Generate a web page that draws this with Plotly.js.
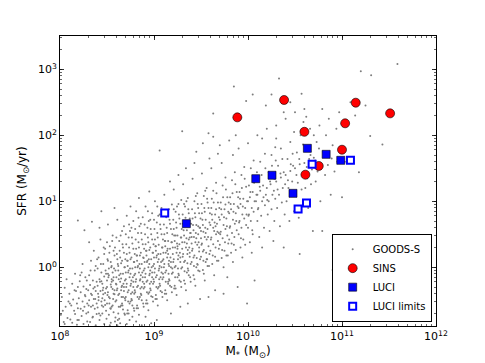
<!DOCTYPE html>
<html>
<head>
<meta charset="utf-8">
<script src="https://cdn.plot.ly/plotly-3.0.1.min.js"></script>
<style>html,body{margin:0;padding:0;background:#fff;}#chart{width:485px;height:363px;}</style>
</head>
<body>
<div id="chart"></div>
<script>
// SINS galaxies: stellar mass (Msun) and SFR (Msun/yr)
var sinsMass = [7.7e9, 2.42e10, 3.98e10, 1.40e11, 1.08e11, 3.25e11, 1.0e11, 5.66e10, 4.08e10];
var sinsSFR  = [187, 343, 113, 312, 152, 215, 60.5, 34.3, 25.3];
// LUCI detections
var luciMass = [2.21e9, 1.21e10, 1.8e10, 3.01e10, 4.28e10, 6.78e10, 9.7e10];
var luciSFR  = [4.58, 22.0, 24.8, 13.2, 63.5, 51.5, 41.8];
// LUCI limits
var limMass = [1.30e9, 3.41e10, 4.19e10, 4.81e10, 1.23e11];
var limSFR  = [6.65, 7.64, 9.43, 36.4, 41.8];
// GOODS-S background sample, [log10 M*, log10 SFR]
var goodsLog = [
[8.01,-0.72],[8.02,-0.45],[8.04,-0.83],[8.05,-0.31],[8.06,-0.60],[8.07,-0.18],[8.08,-0.77],[8.09,-0.52],[8.03,-0.66],[8.05,-0.86],
[8.10,-0.40],[8.11,-0.79],[8.12,-0.58],[8.13,-0.25],[8.13,-0.84],[8.14,-0.49],[8.15,-0.66],[8.16,-0.10],[8.16,-0.71],[8.17,-0.36],[8.18,-0.55],[8.18,-0.87],[8.19,-0.30],[8.19,-0.62],
[8.20,-0.47],[8.20,-0.80],[8.21,-0.21],[8.22,-0.63],[8.22,-0.38],[8.23,-0.74],[8.24,0.05],[8.24,-0.52],[8.25,-0.86],[8.25,-0.29],[8.26,-0.60],[8.26,0.56],[8.27,-0.44],[8.27,-0.15],[8.28,-0.70],[8.28,-0.33],[8.29,-0.55],[8.29,-0.82],[8.19,0.71],[8.23,-0.08],
[8.30,-0.35],[8.30,-0.68],[8.31,-0.12],[8.31,-0.50],[8.32,-0.83],[8.32,-0.27],[8.33,0.10],[8.33,-0.60],[8.34,-0.42],[8.34,0.69],[8.35,-0.75],[8.35,-0.20],[8.36,-0.48],[8.36,0.25],[8.37,-0.05],[8.37,-0.63],[8.38,-0.36],[8.38,-0.88],[8.39,-0.22],[8.39,-0.55],[8.31,0.38],[8.33,-0.40],[8.35,-0.58],[8.37,-0.30],[8.38,0.02],[8.39,-0.71],
[8.40,-0.28],[8.40,-0.61],[8.41,0.15],[8.41,-0.45],[8.42,-0.80],[8.42,-0.18],[8.43,-0.36],[8.43,0.42],[8.44,-0.52],[8.44,-0.08],[8.45,-0.70],[8.45,-0.25],[8.46,0.05],[8.46,-0.41],[8.47,-0.86],[8.47,-0.14],[8.48,-0.57],[8.48,0.28],[8.49,-0.32],[8.49,-0.66],[8.40,-0.02],[8.41,-0.50],[8.42,0.60],[8.43,-0.73],[8.44,-0.21],[8.45,-0.47],[8.46,-0.60],[8.47,0.20],[8.48,-0.39],[8.49,-0.10],[8.44,0.85],[8.46,-0.31],
[8.50,-0.20],[8.50,-0.55],[8.51,0.10],[8.51,-0.38],[8.52,-0.72],[8.52,-0.12],[8.53,0.32],[8.53,-0.47],[8.54,-0.26],[8.54,-0.84],[8.55,0.02],[8.55,-0.60],[8.56,-0.33],[8.56,0.48],[8.57,-0.15],[8.57,-0.68],[8.58,-0.41],[8.58,0.18],[8.59,-0.05],[8.59,-0.52],[8.50,-0.30],[8.51,0.65],[8.52,-0.45],[8.53,-0.88],[8.54,0.08],[8.55,-0.22],[8.56,-0.58],[8.57,0.25],[8.58,-0.35],[8.59,-0.76],[8.50,0.38],[8.52,-0.02],[8.54,-0.63],[8.55,-0.18],[8.57,-0.40],[8.58,0.90],[8.51,-0.10],[8.56,-0.08],
[8.60,-0.15],[8.60,-0.50],[8.61,0.12],[8.61,-0.32],[8.62,-0.70],[8.62,-0.05],[8.63,0.40],[8.63,-0.40],[8.64,-0.22],[8.64,-0.85],[8.65,0.06],[8.65,-0.58],[8.66,-0.28],[8.66,0.55],[8.67,-0.10],[8.67,-0.64],[8.68,-0.36],[8.68,0.22],[8.69,0.00],[8.69,-0.47],[8.60,-0.26],[8.61,0.72],[8.62,-0.42],[8.63,-0.78],[8.64,0.15],[8.65,-0.17],[8.66,-0.55],[8.67,0.30],[8.68,-0.30],[8.69,-0.72],[8.60,0.45],[8.62,0.02],[8.63,-0.12],[8.64,-0.60],[8.65,-0.35],[8.66,0.10],[8.67,-0.45],[8.68,0.62],[8.69,-0.20],[8.61,-0.88],
[8.70,-0.08],[8.70,-0.45],[8.71,0.20],[8.71,-0.25],[8.72,-0.65],[8.72,0.02],[8.73,0.45],[8.73,-0.35],[8.74,-0.15],[8.74,-0.80],[8.75,0.12],[8.75,-0.52],[8.76,-0.20],[8.76,0.60],[8.77,-0.02],[8.77,-0.58],[8.78,-0.30],[8.78,0.28],[8.79,0.08],[8.79,-0.40],[8.70,-0.18],[8.71,0.78],[8.72,-0.38],[8.73,-0.70],[8.74,0.22],[8.75,-0.10],[8.76,-0.48],[8.77,0.36],[8.78,-0.22],[8.79,-0.66],[8.70,0.50],[8.72,0.10],[8.73,-0.05],[8.74,-0.55],[8.75,-0.28],[8.76,0.15],[8.77,-0.38],[8.78,0.70],[8.79,-0.12],[8.71,-0.86],[8.75,0.92],[8.77,-0.75],
[8.80,0.00],[8.80,-0.38],[8.81,0.28],[8.81,-0.18],[8.82,-0.58],[8.82,0.10],[8.83,0.52],[8.83,-0.28],[8.84,-0.08],[8.84,-0.72],[8.85,0.18],[8.85,-0.45],[8.86,-0.12],[8.86,0.66],[8.87,0.05],[8.87,-0.50],[8.88,-0.22],[8.88,0.35],[8.89,0.14],[8.89,-0.32],[8.80,-0.10],[8.81,0.85],[8.82,-0.30],[8.83,-0.62],[8.84,0.30],[8.85,-0.02],[8.86,-0.40],[8.87,0.42],[8.88,-0.15],[8.89,-0.60],[8.80,0.58],[8.82,0.18],[8.83,0.02],[8.84,-0.48],[8.85,-0.20],[8.86,0.22],[8.87,-0.30],[8.88,0.76],[8.89,-0.05],[8.81,-0.82],[8.84,1.05],[8.87,-0.88],
[8.90,0.08],[8.90,-0.30],[8.91,0.35],[8.91,-0.10],[8.92,-0.50],[8.92,0.18],[8.93,0.60],[8.93,-0.20],[8.94,0.00],[8.94,-0.65],[8.95,0.26],[8.95,-0.38],[8.96,-0.05],[8.96,0.72],[8.97,0.12],[8.97,-0.44],[8.98,-0.15],[8.98,0.42],[8.99,0.22],[8.99,-0.25],[8.90,-0.02],[8.91,0.92],[8.92,-0.22],[8.93,-0.55],[8.94,0.38],[8.95,0.05],[8.96,-0.32],[8.97,0.50],[8.98,-0.08],[8.99,-0.52],[8.90,0.65],[8.92,0.25],[8.93,0.10],[8.94,-0.40],[8.95,-0.12],[8.96,0.30],[8.97,-0.22],[8.98,0.82],[8.99,0.02],[8.91,-0.75],[8.95,1.15],[8.97,-0.85],
[9.00,0.15],[9.00,-0.22],[9.01,0.42],[9.01,-0.02],[9.02,-0.42],[9.02,0.25],[9.03,0.68],[9.03,-0.12],[9.04,0.08],[9.04,-0.58],[9.05,0.34],[9.05,-0.30],[9.06,0.02],[9.06,0.80],[9.07,0.20],[9.07,-0.36],[9.08,-0.08],[9.08,0.50],[9.09,0.30],[9.09,-0.18],[9.00,0.05],[9.01,1.00],[9.02,-0.15],[9.03,-0.48],[9.04,0.45],[9.05,0.12],[9.06,-0.25],[9.07,0.58],[9.08,0.00],[9.09,-0.45],[9.00,0.72],[9.02,0.32],[9.03,0.18],[9.04,-0.32],[9.05,-0.05],[9.06,1.77],[9.07,-0.15],[9.08,0.90],[9.09,0.10],[9.03,-0.80],
[9.10,0.22],[9.10,-0.15],[9.11,0.50],[9.11,0.05],[9.12,-0.35],[9.12,0.32],[9.13,0.76],[9.13,-0.05],[9.14,0.15],[9.14,-0.50],[9.15,0.40],[9.15,-0.22],[9.16,0.10],[9.16,0.88],[9.17,0.28],[9.17,-0.28],[9.18,0.00],[9.18,0.58],[9.19,0.38],[9.19,-0.10],[9.10,0.12],[9.11,1.10],[9.12,-0.08],[9.13,-0.40],[9.14,0.52],[9.15,0.20],[9.16,-0.18],[9.17,0.66],[9.18,0.08],[9.19,-0.38],[9.10,0.80],[9.12,0.40],[9.14,0.25],[9.15,-0.25],[9.16,0.02],[9.17,1.30],[9.18,-0.70],[9.19,0.95],
[9.20,0.30],[9.20,-0.08],[9.21,0.58],[9.21,0.12],[9.22,-0.28],[9.22,0.40],[9.23,0.84],[9.23,0.02],[9.24,0.22],[9.24,-0.42],[9.25,0.48],[9.25,-0.15],[9.26,0.18],[9.26,0.96],[9.27,0.35],[9.27,-0.20],[9.28,0.08],[9.28,0.66],[9.29,0.45],[9.29,-0.02],[9.20,0.20],[9.21,1.18],[9.22,0.00],[9.23,-0.32],[9.24,0.60],[9.25,0.28],[9.26,-0.10],[9.27,0.74],[9.28,0.15],[9.29,-0.30],[9.21,0.88],[9.23,0.48],[9.25,0.32],[9.26,1.40],[9.28,-0.60],[9.29,1.02],
[9.30,0.38],[9.30,0.00],[9.31,0.66],[9.31,0.20],[9.32,-0.20],[9.32,0.48],[9.33,0.92],[9.33,0.10],[9.34,0.30],[9.34,-0.35],[9.35,0.56],[9.35,-0.08],[9.36,0.26],[9.36,1.05],[9.37,0.42],[9.37,-0.12],[9.38,0.16],[9.38,0.74],[9.39,0.52],[9.39,0.05],[9.30,0.28],[9.31,1.26],[9.32,0.08],[9.33,-0.25],[9.34,0.68],[9.35,0.36],[9.36,-0.02],[9.37,0.82],[9.38,0.22],[9.39,-0.22],[9.32,0.96],[9.34,1.50],[9.36,-0.55],[9.38,0.45],
[9.40,0.46],[9.40,0.08],[9.41,0.74],[9.41,0.28],[9.42,-0.12],[9.42,0.56],[9.43,1.00],[9.43,0.18],[9.44,0.38],[9.44,-0.28],[9.45,0.64],[9.45,0.00],[9.46,0.34],[9.46,1.12],[9.47,0.50],[9.47,-0.05],[9.48,0.24],[9.48,0.82],[9.49,0.60],[9.49,0.12],[9.40,0.36],[9.41,1.34],[9.42,0.15],[9.43,-0.18],[9.44,0.76],[9.45,0.44],[9.46,0.05],[9.47,0.90],[9.48,0.30],[9.49,-0.48],[9.43,1.58],[9.47,0.62],
[9.50,0.55],[9.50,0.16],[9.51,0.82],[9.51,0.36],[9.52,-0.04],[9.52,0.64],[9.53,1.08],[9.53,0.26],[9.54,0.46],[9.54,-0.20],[9.55,0.72],[9.55,0.08],[9.56,0.42],[9.56,1.20],[9.57,0.58],[9.57,0.02],[9.58,0.32],[9.58,0.90],[9.59,0.68],[9.59,0.20],[9.50,0.44],[9.51,1.42],[9.52,0.24],[9.53,-0.10],[9.54,0.84],[9.55,0.52],[9.56,0.12],[9.57,0.98],[9.58,-0.45],[9.59,1.65],
[9.60,0.64],[9.60,0.25],[9.61,0.90],[9.61,0.45],[9.62,0.05],[9.62,0.72],[9.63,1.16],[9.63,0.35],[9.64,0.55],[9.64,-0.12],[9.65,0.80],[9.65,0.16],[9.66,0.50],[9.66,1.28],[9.67,0.66],[9.67,0.10],[9.68,0.40],[9.68,0.98],[9.69,0.76],[9.69,0.28],[9.61,1.50],[9.63,0.60],[9.65,-0.35],[9.66,0.88],[9.68,1.72],[9.69,0.52],
[9.70,0.72],[9.70,0.34],[9.71,0.98],[9.71,0.54],[9.72,0.14],[9.72,0.80],[9.73,1.24],[9.73,0.44],[9.74,0.64],[9.74,0.00],[9.75,0.88],[9.75,0.25],[9.76,0.58],[9.76,1.36],[9.77,0.74],[9.77,0.18],[9.78,0.48],[9.78,1.06],[9.79,0.84],[9.79,0.36],[9.72,1.58],[9.74,-0.40],[9.76,0.95],[9.78,-0.15],
[9.80,0.82],[9.80,0.42],[9.81,1.06],[9.81,0.62],[9.82,0.22],[9.82,0.88],[9.83,1.32],[9.83,0.52],[9.84,0.72],[9.84,0.08],[9.85,0.96],[9.85,0.34],[9.86,0.66],[9.86,1.44],[9.87,0.82],[9.87,0.26],[9.88,0.56],[9.88,1.14],[9.89,0.92],[9.89,-0.30],[9.84,1.70],[9.87,2.00],
[9.90,0.90],[9.90,0.50],[9.91,1.14],[9.91,0.70],[9.92,0.30],[9.92,0.96],[9.93,1.40],[9.93,0.60],[9.94,0.80],[9.94,0.15],[9.95,1.04],[9.95,0.42],[9.96,0.74],[9.96,1.52],[9.97,0.90],[9.97,0.34],[9.98,0.64],[9.98,1.22],[9.99,1.00],[9.99,-0.55],
[10.00,1.00],[10.00,0.60],[10.01,1.24],[10.01,0.80],[10.02,0.38],[10.02,1.06],[10.03,1.50],[10.03,0.70],[10.04,0.90],[10.04,0.22],[10.05,1.14],[10.05,0.50],[10.06,0.84],[10.06,1.62],[10.07,1.00],[10.08,1.32],[10.09,1.10],[10.07,-0.20],
[10.10,1.10],[10.10,0.70],[10.11,1.34],[10.11,0.90],[10.12,0.46],[10.13,1.16],[10.13,1.60],[10.14,0.78],[10.15,1.00],[10.15,0.30],[10.16,1.24],[10.17,0.60],[10.18,0.94],[10.18,1.72],[10.19,1.10],[10.19,2.45],
[10.20,1.20],[10.21,0.80],[10.22,1.44],[10.22,1.00],[10.23,0.55],[10.24,1.26],[10.25,1.70],[10.25,0.88],[10.26,1.10],[10.27,0.40],[10.28,1.34],[10.28,0.70],[10.29,1.04],[10.29,1.82],
[10.30,1.30],[10.31,0.90],[10.32,1.54],[10.33,1.10],[10.34,0.62],[10.35,1.36],[10.35,1.80],[10.36,0.98],[10.37,1.20],[10.38,0.30],[10.38,1.44],[10.39,0.80],[10.33,2.86],
[10.40,1.40],[10.41,1.00],[10.42,1.64],[10.43,1.20],[10.44,0.70],[10.45,1.46],[10.45,1.90],[10.46,1.08],[10.47,1.30],[10.48,1.54],[10.49,0.85],[10.49,2.05],
[10.50,1.50],[10.51,1.10],[10.52,1.74],[10.53,1.28],[10.54,0.75],[10.55,1.56],[10.56,2.00],[10.57,1.18],[10.58,1.40],[10.59,2.20],[10.55,0.20],
[10.60,1.58],[10.61,1.20],[10.62,1.82],[10.63,1.35],[10.64,0.90],[10.65,1.64],[10.66,2.10],[10.67,1.26],[10.68,1.48],[10.69,0.55],
[10.70,1.66],[10.72,1.30],[10.73,1.90],[10.74,1.45],[10.76,2.15],[10.77,1.00],[10.78,1.56],[10.79,2.40],
[10.80,1.75],[10.82,1.40],[10.83,2.00],[10.85,1.55],[10.86,2.25],[10.88,1.10],[10.89,1.65],
[10.90,1.85],[10.92,1.45],[10.94,2.10],[10.95,1.60],[10.97,2.35],[10.90,-0.04],[10.79,0.55],
[11.00,1.06],[11.03,1.60],[11.05,2.20],[11.09,2.50],[11.18,1.44],[11.17,0.35],[11.10,0.15],
[11.20,2.97],[11.31,2.91],[11.59,3.08],[11.30,1.99],[11.43,1.86],[11.14,2.30],[11.25,2.45],
[9.85,2.74],[10.05,2.62],[10.25,2.62],[10.35,2.52],[10.57,2.63],[9.98,2.52],[9.63,2.33],
[9.30,2.06],[9.58,2.03],[9.63,1.98],[9.52,1.88],[9.45,1.75],[9.70,1.85],[9.80,1.92],[9.90,1.80],[10.00,1.88],[10.10,2.00],[10.20,2.10],[10.30,2.15],[10.40,2.25],[10.50,2.35],[10.60,2.40],[10.45,2.50],[10.62,2.28],[10.70,2.00],[10.30,1.95],[10.15,1.95],[10.38,2.35],
[8.105,-0.55],[8.155,-0.35],[8.185,-0.80],[8.215,-0.12],[8.245,-0.66],[8.265,-0.42],[8.285,-0.20],[8.305,-0.58],[8.325,-0.05],[8.345,-0.76],[8.355,-0.32],[8.375,-0.48],[8.395,0.12],
[8.405,-0.40],[8.415,-0.70],[8.425,-0.22],[8.435,0.05],[8.445,-0.58],[8.455,-0.35],[8.465,0.30],[8.475,-0.50],[8.485,-0.05],[8.495,-0.78],
[8.505,-0.42],[8.515,-0.15],[8.525,0.22],[8.535,-0.62],[8.545,-0.30],[8.555,0.40],[8.565,-0.48],[8.575,-0.02],[8.585,-0.82],[8.595,-0.25],[8.505,0.12],[8.525,-0.55],[8.545,0.00],[8.565,-0.20],[8.585,0.30],
[8.605,-0.35],[8.615,0.05],[8.625,-0.60],[8.635,0.25],[8.645,-0.10],[8.655,-0.45],[8.665,0.35],[8.675,-0.25],[8.685,-0.70],[8.695,0.12],[8.605,0.20],[8.625,-0.18],[8.645,0.48],[8.665,-0.58],[8.685,0.00],[8.615,-0.80],[8.655,-0.30],[8.695,-0.50],
[8.705,-0.30],[8.715,0.10],[8.725,-0.52],[8.735,0.30],[8.745,-0.02],[8.755,-0.40],[8.765,0.45],[8.775,-0.15],[8.785,-0.62],[8.795,0.20],[8.705,0.35],[8.725,-0.08],[8.745,0.55],[8.765,-0.50],[8.785,0.08],[8.715,-0.70],[8.755,-0.25],[8.795,-0.35],[8.735,0.65],
[8.805,-0.22],[8.815,0.18],[8.825,-0.45],[8.835,0.38],[8.845,0.05],[8.855,-0.32],[8.865,0.52],[8.875,-0.08],[8.885,-0.55],[8.895,0.28],[8.805,0.42],[8.825,0.00],[8.845,0.62],[8.865,-0.42],[8.885,0.15],[8.815,-0.62],[8.855,-0.18],[8.895,-0.25],[8.835,0.75],
[8.905,-0.15],[8.915,0.25],[8.925,-0.38],[8.935,0.45],[8.945,0.12],[8.955,-0.25],[8.965,0.58],[8.975,0.00],[8.985,-0.45],[8.995,0.35],[8.905,0.50],[8.925,0.08],[8.945,0.70],[8.965,-0.35],[8.985,0.22],[8.915,-0.55],[8.955,-0.10],[8.995,-0.18],[8.935,0.85],
[9.005,-0.08],[9.015,0.32],[9.025,-0.30],[9.035,0.52],[9.045,0.20],[9.055,-0.18],[9.065,0.65],[9.075,0.08],[9.085,-0.38],[9.095,0.42],[9.005,0.58],[9.025,0.15],[9.045,0.78],[9.065,-0.28],[9.085,0.30],[9.015,-0.48],[9.055,-0.02],[9.095,-0.10],[9.035,0.92],
[9.105,0.00],[9.115,0.40],[9.125,-0.22],[9.135,0.60],[9.145,0.28],[9.155,-0.10],[9.165,0.72],[9.175,0.15],[9.185,-0.30],[9.195,0.50],[9.105,0.65],[9.125,0.22],[9.145,0.85],[9.165,-0.20],[9.185,0.38],[9.115,-0.40],[9.155,0.05],[9.195,-0.02],
[9.205,0.08],[9.215,0.48],[9.225,-0.15],[9.235,0.68],[9.245,0.36],[9.255,-0.02],[9.265,0.80],[9.275,0.22],[9.285,-0.22],[9.295,0.58],[9.205,0.72],[9.225,0.30],[9.245,0.92],[9.265,-0.12],[9.285,0.45],[9.215,-0.32],[9.255,0.12],
[9.305,0.16],[9.315,0.56],[9.325,-0.06],[9.335,0.75],[9.345,0.44],[9.355,0.06],[9.365,0.88],[9.375,0.30],[9.385,-0.15],[9.395,0.66],[9.305,0.80],[9.325,0.38],[9.345,1.00],[9.365,-0.05],[9.385,0.52],[9.355,0.20],
[9.405,0.25],[9.415,0.64],[9.425,0.02],[9.435,0.82],[9.445,0.52],[9.455,0.14],[9.465,0.96],[9.475,0.38],[9.485,-0.06],[9.495,0.74],[9.405,0.88],[9.425,0.46],[9.445,1.08],[9.465,0.04],[9.485,0.60],
[9.505,0.34],[9.515,0.72],[9.525,0.10],[9.535,0.90],[9.545,0.60],[9.555,0.22],[9.565,1.04],[9.575,0.46],[9.585,0.02],[9.595,0.82],[9.505,0.96],[9.525,0.54],[9.545,1.16],[9.565,0.12],
[9.605,0.42],[9.615,0.80],[9.625,0.18],[9.635,0.98],[9.645,0.68],[9.655,0.30],[9.665,1.12],[9.675,0.54],[9.685,0.10],[9.695,0.90],[9.615,1.04],[9.655,0.62],
[9.705,0.50],[9.715,0.88],[9.725,0.26],[9.735,1.06],[9.745,0.76],[9.755,0.38],[9.765,1.18],[9.775,0.62],[9.785,0.18],[9.795,0.98],
[9.805,0.60],[9.815,0.96],[9.825,0.36],[9.835,1.12],[9.845,0.84],[9.855,0.46],[9.865,1.26],[9.875,0.70],[9.895,1.06],
[9.905,0.68],[9.915,1.04],[9.925,0.44],[9.935,1.20],[9.945,0.92],[9.965,1.34],[9.985,0.80],
[10.005,0.78],[10.025,1.14],[10.045,0.56],[10.065,1.28],[10.085,1.00],[10.095,1.44],
[10.105,0.88],[10.125,1.22],[10.145,1.40],[10.165,1.06],[10.185,1.50],
[10.205,1.02],[10.235,1.30],[10.255,1.54],[10.275,1.16],[10.295,1.62],
[10.315,1.18],[10.345,1.42],[10.365,1.64],[10.395,1.26],
[10.425,1.32],[10.455,1.56],[10.475,1.72],[10.515,1.40],[10.545,1.64],[10.585,1.86],[10.625,1.52],[10.665,1.70],[10.715,1.62],[10.755,1.80]
];

var goodsMass = goodsLog.map(function(p){ return Math.pow(10, p[0]); });
var goodsSFR  = goodsLog.map(function(p){ return Math.pow(10, p[1]); });

var xTickVals = [1e8, 1e9, 1e10, 1e11, 1e12];
var xTickText = ['10<sup>8</sup>', '10<sup>9</sup>', '10<sup>10</sup>', '10<sup>11</sup>', '10<sup>12</sup>'];
var yTickVals = [1, 10, 100, 1000];
var yTickText = ['10<sup>0</sup>', '10<sup>1</sup>', '10<sup>2</sup>', '10<sup>3</sup>'];

var FONT = 'DejaVu Sans, sans-serif';

var traces = [
  {x: goodsMass, y: goodsSFR, mode: 'markers', type: 'scatter', name: 'GOODS-S',
   marker: {size: 2, color: 'rgb(125,125,125)', line: {width: 0}}},
  {x: sinsMass, y: sinsSFR, mode: 'markers', type: 'scatter', name: 'SINS',
   marker: {size: 9, color: '#ff0000', symbol: 'circle', line: {width: 0.6, color: '#000'}}},
  {x: luciMass, y: luciSFR, mode: 'markers', type: 'scatter', name: 'LUCI',
   marker: {size: 8, color: '#0000ff', symbol: 'square', line: {width: 0.6, color: '#000'}}},
  {x: limMass, y: limSFR, mode: 'markers', type: 'scatter', name: 'LUCI limits',
   marker: {size: 7, color: '#ffffff', symbol: 'square', line: {width: 2, color: '#0000ff'}}}
];

var axCommon = {
  type: 'log', showgrid: false, zeroline: false, showline: true, linecolor: '#000', linewidth: 1,
  mirror: 'allticks', ticks: 'inside', ticklen: 4, tickcolor: '#000', tickwidth: 0.8,
  tickfont: {family: FONT, size: 11, color: '#000'},
  minor: {ticks: 'inside', ticklen: 2, tickcolor: '#000', tickwidth: 0.6, dtick: 'D1', showgrid: false}
};

var layout = {
  width: 485, height: 363,
  margin: {l: 60, r: 49, t: 36, b: 37},
  paper_bgcolor: '#fff', plot_bgcolor: '#fff',
  showlegend: true,
  xaxis: Object.assign({}, axCommon, {
    range: [8, 12], tickvals: xTickVals, ticktext: xTickText,
    title: {text: 'M<sub>*</sub> (M<sub>⊙</sub>)', font: {family: FONT, size: 12, color: '#000'}, standoff: 4}
  }),
  yaxis: Object.assign({}, axCommon, {
    range: [-0.89, 3.505], tickvals: yTickVals, ticktext: yTickText,
    title: {text: 'SFR (M<sub>⊙</sub>/yr)', font: {family: FONT, size: 12, color: '#000'}, standoff: 8}
  }),
  legend: {
    x: 0.9885, y: 0.015, xanchor: 'right', yanchor: 'bottom',
    bgcolor: '#fff', bordercolor: '#000', borderwidth: 1,
    font: {family: FONT, size: 10, color: '#000'},
    tracegroupgap: 0, itemwidth: 30
  }
};

Plotly.newPlot('chart', traces, layout, {displayModeBar: false, staticPlot: true});
</script>
</body>
</html>
